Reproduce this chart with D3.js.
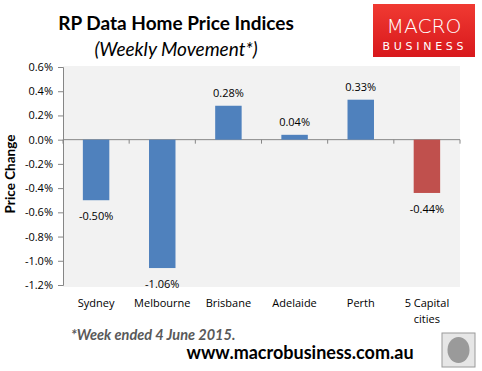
<!DOCTYPE html>
<html>
<head>
<meta charset="utf-8">
<script src="https://cdn.jsdelivr.net/npm/d3@7"></script>
<style>
  body { margin: 0; background: #fff; }
  svg text { font-family: "Open Sans", sans-serif; }
</style>
</head>
<body>
<div id="chart"></div>
<script>
var cities = ["Sydney", "Melbourne", "Brisbane", "Adelaide", "Perth", "5 Capital cities"];
var weeklyChange = [-0.50, -1.06, 0.28, 0.04, 0.33, -0.44];
var yTicks = [0.6, 0.4, 0.2, 0.0, -0.2, -0.4, -0.6, -0.8, -1.0, -1.2];

var svg = d3.select("#chart").append("svg")
    .attr("width", 482)
    .attr("height", 371);

var plotLeft = 63, plotRight = 460, plotTop = 66, plotBottom = 287;

// plain hyphen instead of d3's unicode minus
function pct(f) {
    return function(d) { return d3.format(f)(d).replace("\u2212", "-") + "%"; };
}

var x = d3.scaleBand()
    .domain(cities)
    .range([plotLeft, plotRight])
    .paddingInner(0.6)
    .paddingOuter(0.3);

var y = d3.scaleLinear()
    .domain([-1.2, 0.6])
    .range([285, 67]);

// plot background
svg.append("rect")
    .attr("x", plotLeft).attr("y", plotTop)
    .attr("width", plotRight - plotLeft).attr("height", plotBottom - plotTop)
    .style("fill", "#f2f2f2");

// titles
svg.append("text")
    .attr("x", 176).attr("y", 30)
    .attr("text-anchor", "middle")
    .style("font-family", "Lato, sans-serif")
    .style("font-weight", "bold").style("font-size", "19px")
    .text("RP Data Home Price Indices");
svg.append("text")
    .attr("x", 176).attr("y", 56)
    .attr("text-anchor", "middle")
    .style("font-family", "Lato, sans-serif")
    .style("font-style", "italic").style("font-size", "19px")
    .text("(Weekly Movement*)");

// logo
var grad = svg.append("defs").append("linearGradient")
    .attr("id", "logoGrad").attr("x1", 0).attr("y1", 0).attr("x2", 0).attr("y2", 1);
grad.append("stop").attr("offset", "0%").attr("stop-color", "#f03a32");
grad.append("stop").attr("offset", "100%").attr("stop-color", "#d8181c");
svg.append("rect")
    .attr("x", 373).attr("y", 4).attr("width", 102).attr("height", 53)
    .style("fill", "url(#logoGrad)");
svg.append("text")
    .attr("x", 424).attr("y", 33)
    .attr("text-anchor", "middle")
    .attr("textLength", 75).attr("lengthAdjust", "spacingAndGlyphs")
    .style("fill", "#fff").style("font-size", "19px")
    .style("font-family", "'DejaVu Sans', sans-serif").style("font-weight", "200")
    .text("MACRO");
svg.append("text")
    .attr("x", 423).attr("y", 50)
    .attr("text-anchor", "middle")
    .attr("textLength", 81).attr("lengthAdjust", "spacing")
    .style("fill", "#fff").style("font-size", "11px")
    .style("font-family", "'DejaVu Sans', sans-serif")
    .text("BUSINESS");

// y axis
var yAxis = d3.axisLeft(y)
    .tickValues(yTicks)
    .tickSize(5)
    .tickPadding(5)
    .tickFormat(pct(".1f"));
var gy = svg.append("g")
    .attr("transform", "translate(" + plotLeft + ",0)")
    .call(yAxis);
gy.selectAll("path, line").style("stroke", "#868686");
gy.selectAll("text").style("font-size", "11px").style("fill", "#000")
    .style("font-family", "'Open Sans', sans-serif");

svg.append("text")
    .attr("transform", "translate(15,174) rotate(-90)")
    .attr("text-anchor", "middle")
    .style("font-family", "Lato, sans-serif")
    .style("font-weight", "bold").style("font-size", "13.5px")
    .text("Price Change");

// zero line with category ticks
svg.append("line")
    .attr("x1", plotLeft).attr("x2", plotRight)
    .attr("y1", y(0)).attr("y2", y(0))
    .style("stroke", "#868686");
var step = x.step();
var firstEdge = x(cities[0]) - step * x.paddingOuter();
svg.selectAll(".cattick")
    .data(d3.range(cities.length + 1))
    .enter().append("line")
    .attr("x1", function(i) { return firstEdge + i * step; })
    .attr("x2", function(i) { return firstEdge + i * step; })
    .attr("y1", y(0)).attr("y2", y(0) + 4)
    .style("stroke", "#868686");

// bars
svg.selectAll(".bar")
    .data(weeklyChange)
    .enter().append("rect")
    .attr("x", function(d, i) { return x(cities[i]); })
    .attr("width", x.bandwidth())
    .attr("y", function(d) { return y(Math.max(0, d)); })
    .attr("height", function(d) { return Math.abs(y(d) - y(0)); })
    .style("fill", function(d, i) { return i == cities.length - 1 ? "#c0504d" : "#4f81bd"; });

// value labels
svg.selectAll(".lbl")
    .data(weeklyChange)
    .enter().append("text")
    .attr("x", function(d, i) { return x(cities[i]) + x.bandwidth() / 2; })
    .attr("y", function(d) { return d < 0 ? y(d) + 20 : y(d) - 9; })
    .attr("text-anchor", "middle")
    .style("font-size", "11px")
    .text(pct(".2f"));

// category labels
svg.selectAll(".cat")
    .data(cities)
    .enter().append("text")
    .attr("x", function(d) { return x(d) + x.bandwidth() / 2; })
    .attr("y", 307)
    .attr("text-anchor", "middle")
    .style("font-size", "11px")
    .each(function(d) {
        var t = d3.select(this);
        if (d == "5 Capital cities") {
            t.append("tspan").attr("x", t.attr("x")).text("5 Capital");
            t.append("tspan").attr("x", t.attr("x")).attr("dy", 16).text("cities");
        } else {
            t.text(d);
        }
    });

// footnote and site
svg.append("text")
    .attr("x", 71).attr("y", 340)
    .style("font-family", "Lato, sans-serif")
    .style("font-weight", "bold").style("font-style", "italic")
    .style("font-size", "14.5px").style("fill", "#595959")
    .text("*Week ended 4 June 2015.");
svg.append("text")
    .attr("x", 300).attr("y", 359)
    .attr("text-anchor", "middle")
    .style("font-family", "Lato, sans-serif")
    .style("font-weight", "bold").style("font-size", "18px")
    .text("www.macrobusiness.com.au");

// wolf picture placeholder
svg.append("rect")
    .attr("x", 442).attr("y", 333).attr("width", 33).attr("height", 34)
    .style("fill", "#e6e6e6").style("stroke", "#9a9a9a");
svg.append("ellipse")
    .attr("cx", 458.5).attr("cy", 350).attr("rx", 11).attr("ry", 13)
    .style("fill", "#9a9a9a");
</script>
</body>
</html>
